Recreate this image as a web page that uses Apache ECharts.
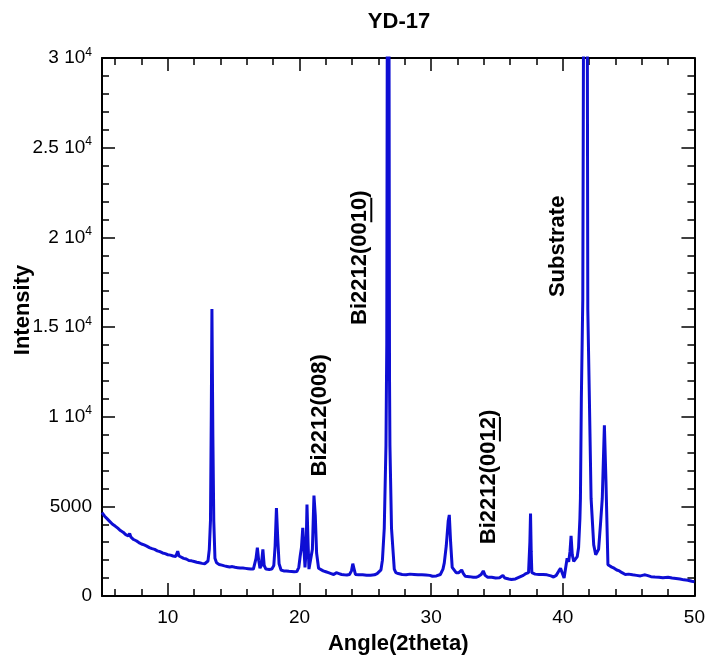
<!DOCTYPE html>
<html>
<head>
<meta charset="utf-8">
<script src="https://cdn.jsdelivr.net/npm/echarts@6/dist/echarts.min.js"></script>
<style>html,body{margin:0;padding:0;background:#fff}#c{width:708px;height:660px}</style>
</head>
<body>
<div id="c"></div>
<script>
// ---- data ----
const angles = [
 5.0,5.2,5.4,5.6,5.8,6.0,6.2,6.4,6.6,6.8,7.0,7.1,7.2,7.4,7.6,7.8,8.0,8.2,8.4,8.6,8.8,9.0,9.2,9.4,9.6,9.8,
 10.0,10.2,10.4,10.6,10.75,10.85,11.0,11.2,11.4,11.6,11.8,12.0,12.2,12.4,12.6,12.8,12.95,13.05,13.15,13.24,13.3,13.35,13.42,13.49,13.58,13.7,13.9,
 14.1,14.3,14.5,14.7,14.9,15.1,15.3,15.5,15.7,15.9,16.1,16.3,16.5,16.6,16.7,16.8,16.9,17.0,17.1,17.22,17.32,17.45,17.7,17.9,
 18.05,18.15,18.25,18.35,18.45,18.6,18.8,19.0,19.2,19.4,19.6,19.8,19.95,20.05,20.15,20.25,20.35,20.42,20.5,20.57,20.65,20.72,20.85,20.98,
 21.1,21.2,21.3,21.45,21.6,21.8,22.0,22.2,22.4,22.6,22.8,23.0,23.2,23.4,23.6,23.8,23.95,24.05,24.15,24.25,24.5,24.8,25.1,25.4,25.7,25.9,26.0,
 26.19,26.3,26.44,26.57,26.63,26.67,26.75,26.8,26.84,26.87,26.99,27.2,27.32,27.5,27.8,28.1,28.4,28.7,29.0,29.1,29.3,29.6,29.9,
 30.1,30.4,30.7,30.9,31.0,31.15,31.3,31.38,31.48,31.6,31.75,31.9,32.0,32.1,32.2,32.32,32.45,32.6,32.9,33.2,33.4,33.6,33.8,33.96,
 34.1,34.3,34.6,34.9,35.2,35.45,35.6,35.9,36.1,36.4,36.7,37.0,37.2,37.4,37.5,37.55,37.6,37.65,37.9,38.2,38.5,38.8,39.1,39.3,39.5,39.7,39.83,39.95,
 40.1,40.2,40.33,40.45,40.55,40.63,40.72,40.83,40.95,41.1,41.2,41.3,41.34,41.41,41.52,41.58,41.72,41.86,41.9,42.02,42.15,42.35,42.5,42.6,42.72,42.86,
 43.0,43.16,43.28,43.43,43.55,43.72,43.9,44.1,44.3,44.5,44.75,45.0,45.3,45.6,45.9,46.2,46.4,46.7,47.0,47.3,47.6,48.0,48.3,48.6,48.9,49.2,49.5,49.8,50.0
];
const intensity = [
 4650,4450,4300,4150,4000,3900,3780,3650,3560,3420,3350,3480,3280,3150,3080,2980,2900,2850,2780,2700,2640,2600,2520,2470,2400,2360,
 2300,2280,2230,2200,2500,2230,2150,2100,2060,1980,1960,1920,1880,1850,1820,1800,1850,1950,2600,4200,10000,16000,9000,4200,2100,1850,1760,
 1720,1680,1650,1620,1640,1600,1580,1560,1560,1540,1520,1500,1500,1600,2100,2700,2000,1550,1700,2600,1700,1500,1480,1500,
 1700,2800,4900,3200,1800,1450,1400,1400,1380,1370,1350,1360,1600,2200,2700,3800,2500,1600,2500,5100,3000,1500,1600,2600,
 5600,4500,2400,1550,1450,1400,1350,1300,1250,1200,1300,1250,1200,1180,1170,1200,1400,1800,1500,1200,1180,1180,1160,1160,1180,1250,1300,
 1460,2000,3780,8400,14000,32000,38000,32000,12000,8400,3780,1500,1300,1250,1200,1190,1220,1200,1180,1250,1180,1170,1150,
 1100,1120,1200,1500,1850,2800,4200,4520,3000,1600,1500,1300,1400,1300,1250,1450,1250,1100,1080,1050,1040,1100,1200,1400,
 1150,1050,1040,1000,1020,1150,1000,950,920,950,1050,1150,1250,1300,3000,4600,2500,1300,1220,1200,1200,1180,1120,1060,1150,1400,1550,1300,
 1000,1090,2100,1900,2500,3350,2300,1925,1950,2200,2700,4300,5440,11000,16560,33000,42000,33000,16000,11000,5440,2850,2300,2200,2600,3960,
 5440,9520,6390,1740,1650,1610,1550,1450,1400,1300,1200,1220,1180,1150,1120,1180,1150,1080,1060,1050,1020,1040,1000,980,950,900,880,820,800
];
const xMajorTicks = [10, 20, 30, 40, 50];
const xMinorTicks = [6, 8, 12, 14, 16, 18, 22, 24, 26, 28, 32, 34, 36, 38, 42, 44, 46, 48];
const yTickValues = [0, 5000, 10000, 15000, 20000, 25000, 30000];
const yTickLabels = ['0', '5000', '1 10{sup|4}', '1.5 10{sup|4}', '2 10{sup|4}', '2.5 10{sup|4}', '3 10{sup|4}'];
const titleText = 'YD-17';
const xName = 'Angle(2theta)';
const yName = 'Intensity';
// peak annotations: text, underlined part, anchor (angle, intensity) at the start of the text
const peakTexts = ['Bi2212(008)', 'Bi2212(0010)', 'Bi2212(0012)', 'Substrate'];
const peakUnderlined = ['', '10', '12', ''];
const peakAnchorAngle = [21.52, 24.62, 34.39, 39.62];
const peakAnchorIntensity = [6667, 15111, 2889, 16667];

// ---- chart ----
const FONT = '"Liberation Sans", Arial, sans-serif';
const chart = echarts.init(document.getElementById('c'), null, {renderer: 'canvas'});
const axisLineStyle = {color: '#000', width: 2};
const tickStyle = {color: '#000', width: 1.5};
function xAx(pos, ticks, len, withLine, withLabel) {
  return {
    type: 'value', min: 5, max: 50, position: pos,
    axisLine: {show: withLine, onZero: false, lineStyle: axisLineStyle},
    axisTick: {show: true, inside: true, length: len, customValues: ticks, lineStyle: tickStyle},
    axisLabel: withLabel ? {show: true, customValues: xMajorTicks, margin: 12, fontSize: 19, fontFamily: FONT, color: '#000'} : {show: false},
    splitLine: {show: false}
  };
}
function yAx(pos, withLabel) {
  return {
    type: 'value', min: 0, max: 30000, interval: 5000, position: pos,
    axisLine: {show: true, onZero: false, lineStyle: axisLineStyle},
    axisTick: {show: true, inside: true, length: 13, lineStyle: tickStyle},
    minorTick: {show: true, splitNumber: 5, length: 7, lineStyle: tickStyle},
    axisLabel: withLabel ? {
      show: true, margin: 10, fontSize: 19, fontFamily: FONT, color: '#000',
      formatter: function (v) { const i = yTickValues.indexOf(v); return i >= 0 ? yTickLabels[i] : ''; },
      rich: {sup: {fontSize: 12, fontFamily: FONT, color: '#000', verticalAlign: 'bottom', padding: [0, 0, 11, 0]}}
    } : {show: false},
    splitLine: {show: false}, minorSplitLine: {show: false}
  };
}
const xAxes = [xAx('bottom', xMajorTicks, 13, true, true), xAx('bottom', xMinorTicks, 7, false, false),
               xAx('top', xMajorTicks, 13, true, false), xAx('top', xMinorTicks, 7, false, false)];
xAxes[0].name = xName;
xAxes[0].nameLocation = 'middle';
xAxes[0].nameGap = 37;
xAxes[0].nameTextStyle = {fontSize: 22, fontWeight: 'bold', fontFamily: FONT, color: '#000'};

const option = {
  animation: false,
  backgroundColor: '#fff',
  title: {text: titleText, left: 399, top: 11, textAlign: 'center', padding: 0,
          textStyle: {fontSize: 22, fontWeight: 'bold', fontFamily: FONT, color: '#000'}},
  grid: {left: 102, right: 12, top: 58, bottom: 62, containLabel: false},
  xAxis: xAxes,
  yAxis: [yAx('left', true), yAx('right', false)],
  series: [{
    type: 'line', xAxisIndex: 0, yAxisIndex: 0, showSymbol: false, symbol: 'none', clip: true,
    lineStyle: {color: '#0e0ed4', width: 3},
    data: angles.map((a, i) => [a, intensity[i]])
  }]
};
chart.setOption(option);

// annotations (rotated texts) placed through the axes' scales
const ctx = document.createElement('canvas').getContext('2d');
const LFONT = 'bold 22px ' + FONT;
ctx.font = LFONT;
const graphics = [{
  type: 'text', x: 23, y: 310, rotation: Math.PI / 2,
  style: {text: yName, font: LFONT, fill: '#000', align: 'center', verticalAlign: 'middle', textAlign: 'center', textVerticalAlign: 'middle'}
}];
peakTexts.forEach(function (t, i) {
  const p = chart.convertToPixel({xAxisIndex: 0, yAxisIndex: 0}, [peakAnchorAngle[i], peakAnchorIntensity[i]]);
  const children = [{type: 'text', x: 0, y: 0,
    style: {text: t, font: LFONT, fill: '#000', align: 'left', verticalAlign: 'middle', textAlign: 'left', textVerticalAlign: 'middle'}}];
  if (peakUnderlined[i]) {
    const pre = t.slice(0, t.lastIndexOf(peakUnderlined[i]));
    const w0 = ctx.measureText(pre).width, w1 = ctx.measureText(pre + peakUnderlined[i]).width;
    children.push({type: 'line', shape: {x1: w0, y1: 11, x2: w1, y2: 11}, style: {stroke: '#000', lineWidth: 2}});
  }
  graphics.push({type: 'group', x: p[0], y: p[1], rotation: Math.PI / 2, children: children});
});
chart.setOption({graphic: graphics});
</script>
</body>
</html>
